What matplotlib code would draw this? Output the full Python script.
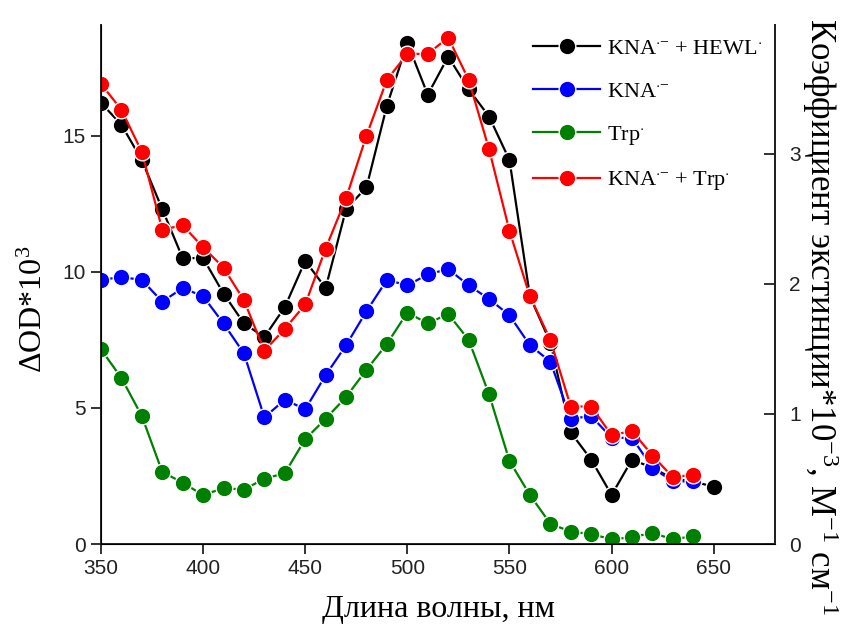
import matplotlib
matplotlib.use('Agg')
import matplotlib.pyplot as plt

plt.rcParams['mathtext.fontset'] = 'custom'
plt.rcParams['mathtext.rm'] = 'Liberation Serif'
plt.rcParams['mathtext.it'] = 'Liberation Serif:italic'

# ── Data ──
wl = [350, 360, 370, 380, 390, 400, 410, 420, 430, 440, 450, 460, 470, 480, 490,
      500, 510, 520, 530, 540, 550, 560, 570, 580, 590, 600, 610, 620, 630, 640, 650]

kna_hewl = [16.2, 15.4, 14.1, 12.3, 10.5, 10.5, 9.2, 8.1, 7.6, 8.7, 10.4, 9.4, 12.3, 13.1, 16.1,
            18.4, 16.5, 17.9, 16.7, 15.7, 14.1, 9.1, 7.4, 4.1, 3.1, 1.8, 3.1, 2.8, 2.4, 2.3, 2.1]

kna = [9.7, 9.8, 9.7, 8.9, 9.4, 9.1, 8.1, 7.0, 4.65, 5.3, 4.95, 6.2, 7.3, 8.55, 9.7,
       9.5, 9.9, 10.1, 9.5, 9.0, 8.4, 7.3, 6.7, 4.6, 4.7, 3.9, 3.9, 2.8, 2.3, 2.3]

trp = [7.15, 6.1, 4.7, 2.65, 2.25, 1.8, 2.05, 2.0, 2.4, 2.6, 3.85, 4.6, 5.4, 6.4, 7.35,
       8.5, 8.1, 8.45, 7.5, 5.5, 3.05, 1.8, 0.75, 0.45, 0.37, 0.17, 0.25, 0.41, 0.17, 0.29]

kna_trp = [16.9, 15.95, 14.4, 11.55, 11.7, 10.9, 10.15, 8.95, 7.1, 7.9, 8.8, 10.85, 12.7, 15.0, 17.05,
           18.0, 18.0, 18.6, 17.05, 14.5, 11.5, 9.1, 7.5, 5.05, 5.05, 4.0, 4.15, 3.25, 2.45, 2.55]

series = [
    (kna_hewl, 'black', r'KNA$^{\cdot\mathrm{-}}$ + HEWL$^{\cdot}$'),
    (kna, '#0000ff', r'KNA$^{\cdot\mathrm{-}}$'),
    (trp, '#008000', r'Trp$^{\cdot}$'),
    (kna_trp, '#ff0000', r'KNA$^{\cdot\mathrm{-}}$ + Trp$^{\cdot}$'),
]

fig = plt.figure(figsize=(8.47, 6.32), dpi=100)
ax = fig.add_axes([0.1192, 0.1392, 0.7958, 0.8208])

for vals, col, lab in series:
    ax.plot(wl[:len(vals)], vals, '-o', color=col, lw=1.6, ms=12,
            mfc=col, mec='white', mew=1.0, label=lab)

ax.set_xlim(350, 680)
ax.set_ylim(0, 19.05)
ax.set_xticks([350, 400, 450, 500, 550, 600, 650])
ax.set_yticks([0, 5, 10, 15])

for s in ['left', 'bottom', 'right']:
    ax.spines[s].set_linewidth(1.4)
    ax.spines[s].set_color('#222222')
ax.spines['top'].set_visible(False)

ax.tick_params(direction='out', length=7, width=1.3, labelsize=15, pad=4, colors='#222222')
for lbl in ax.get_xticklabels() + ax.get_yticklabels():
    lbl.set_fontfamily('Liberation Sans')

ax.set_xlabel('Длина волны, нм', fontsize=23, family='Liberation Serif', labelpad=12)
# подпись левой оси чуть ниже центра, как в оригинале
fig.text(0.041, 0.51, r'ΔOD*10$^{\mathrm{3}}$', fontsize=23, family='Liberation Serif',
         rotation=90, ha='center', va='center')

# правая ось
ax2 = ax.twinx()
ax2.set_ylim(0, 19.05 * 0.2092)
ax2.set_yticks([0, 1, 2, 3])
ax2.spines['top'].set_visible(False)
ax2.spines['right'].set_linewidth(1.4)
ax2.spines['right'].set_color('#222222')
ax2.tick_params(direction='in', length=8, width=1.3, labelsize=15, pad=10, colors='#222222')
for lbl in ax2.get_yticklabels():
    lbl.set_fontfamily('Liberation Sans')
fig.text(0.968, 0.5, r'Коэффициент экстинции*10$^{\mathrm{-3}}$, М$^{\mathrm{-1}}$ см$^{\mathrm{-1}}$',
         fontsize=25, family='Liberation Serif', rotation=270, ha='center', va='center')

leg = ax.legend(loc='upper right', bbox_to_anchor=(1.0, 1.0), frameon=False,
                prop={'family': 'Liberation Serif', 'size': 16}, handlelength=3.0,
                labelspacing=1.0, handletextpad=0.3, borderaxespad=0.2)

fig.savefig('out.png', dpi=100)
